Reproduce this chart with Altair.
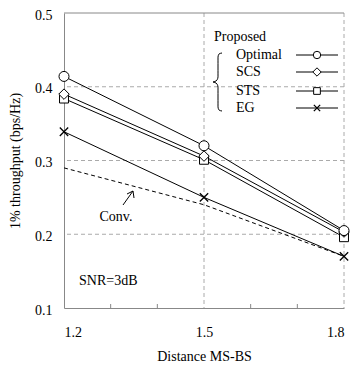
import altair as alt
import pandas as pd

distance = [1.2, 1.5, 1.8]
optimal = [0.414, 0.320, 0.205]
scs = [0.390, 0.306, 0.203]
sts = [0.384, 0.301, 0.196]
eg = [0.339, 0.250, 0.170]
conv = [0.290, 0.240, 0.170]

series_names = ["Optimal", "SCS", "STS", "EG"]
series_vals = [optimal, scs, sts, eg]

x_ticks = [1.2, 1.5, 1.8]
x_minor = [1.3, 1.4, 1.6, 1.7]
y_ticks = [0.1, 0.2, 0.3, 0.4, 0.5]
grid_y = [0.2, 0.3, 0.4]
grid_x = [1.5, 1.8]

FONT = "'Liberation Serif', 'Times New Roman', serif"
W, H = 280, 295

rows = []
for name, vals in zip(series_names, series_vals):
    for d, v in zip(distance, vals):
        rows.append({"series": name, "d": d, "v": v})
df = pd.DataFrame(rows)
conv_df = pd.DataFrame({"d": distance, "v": conv})

xs = alt.Scale(domain=[1.2, 1.8], nice=False, zero=False)
ys = alt.Scale(domain=[0.1, 0.5], nice=False, zero=False)

X_SHAPE = "M-1,-1L1,1M-1,1L1,-1"
shape_map = {"Optimal": "circle", "SCS": "diamond", "STS": "square", "EG": X_SHAPE}

base_x = alt.X("d:Q", scale=xs, axis=alt.Axis(
    values=x_ticks, format=".1f", labelPadding=17, ticks=False, grid=False,
    domainColor="#888", title="Distance MS-BS", titlePadding=10,
    labelFont=FONT, labelFontSize=14, titleFont=FONT, titleFontSize=14,
    titleFontWeight="normal", labelColor="black", titleColor="black"))
base_y = alt.Y("v:Q", scale=ys, axis=alt.Axis(
    values=y_ticks, format=".1f", labelPadding=12, labelOffset=2, ticks=False, grid=False,
    domainColor="#888", title="1% throughput (bps/Hz)", titlePadding=12,
    labelFont=FONT, labelFontSize=14, titleFont=FONT, titleFontSize=14,
    titleFontWeight="normal", labelColor="black", titleColor="black"))

# grid
gy = alt.Chart(pd.DataFrame({"v": grid_y})).mark_rule(
    color="#aaa", strokeDash=[4, 3], strokeWidth=1).encode(y=alt.Y("v:Q", scale=ys))
gx = alt.Chart(pd.DataFrame({"d": grid_x})).mark_rule(
    color="#aaa", strokeDash=[4, 3], strokeWidth=1).encode(x=alt.X("d:Q", scale=xs))
top = alt.Chart(pd.DataFrame({"v": [0.5]})).mark_rule(
    color="#888", strokeWidth=1).encode(y=alt.Y("v:Q", scale=ys))
minor = alt.Chart(pd.DataFrame({"d": x_minor})).mark_rule(
    color="#888", strokeWidth=1).encode(
    x=alt.X("d:Q", scale=xs), y=alt.value(H), y2=alt.value(H - 4))

lines = alt.Chart(df).mark_line(color="black", strokeWidth=1).encode(
    x=base_x, y=base_y, detail="series:N")
conv_line = alt.Chart(conv_df).mark_line(
    color="black", strokeWidth=1, strokeDash=[4, 3]).encode(
    x=alt.X("d:Q", scale=xs), y=alt.Y("v:Q", scale=ys))

marker_sizes = {"Optimal": 100, "SCS": 110, "STS": 80, "EG": 70}
legend_sizes = {"Optimal": 55, "SCS": 70, "STS": 45, "EG": 40}

def make_mark(name, data, size):
    if name == "EG":
        return alt.Chart(data).mark_point(
            shape=X_SHAPE, size=size, filled=False, stroke="black",
            strokeWidth=1.3, opacity=1)
    return alt.Chart(data).mark_point(
        shape=shape_map[name], size=size, filled=True, fill="white",
        stroke="black", strokeWidth=1, opacity=1)

points = [make_mark(n, df[df.series == n], marker_sizes[n]).encode(
    x=alt.X("d:Q", scale=xs), y=alt.Y("v:Q", scale=ys))
    for n in ["STS", "SCS", "Optimal", "EG"]]

# legend (pixel positions inside plot area)
leg_rows_y = [42, 59, 78, 95]
leg_df = pd.DataFrame({"name": series_names, "py": leg_rows_y})
leg_text = alt.Chart(leg_df).mark_text(
    align="left", baseline="middle", font=FONT, fontSize=14, color="black").encode(
    x=alt.value(172), y=alt.Y("py:Q", scale=None), text="name:N")
leg_line = alt.Chart(leg_df).mark_rule(color="black", strokeWidth=1).encode(
    x=alt.value(232), x2=alt.value(274), y=alt.Y("py:Q", scale=None))
leg_marks = [make_mark(n, pd.DataFrame({"py": [py]}), legend_sizes[n]).encode(
    x=alt.value(253), y=alt.Y("py:Q", scale=None))
    for n, py in zip(series_names, leg_rows_y)]

proposed = alt.Chart(pd.DataFrame({"t": ["Proposed"]})).mark_text(
    align="left", baseline="middle", font=FONT, fontSize=14, color="black").encode(
    x=alt.value(150), y=alt.value(24), text="t:N")

brace_px = [158, 155, 154, 154, 153, 149, 153, 154, 154, 155, 158]
brace_py = [40, 41, 44, 64, 67, 69, 71, 74, 94, 97, 98]
brace = alt.Chart(pd.DataFrame({"px": brace_px, "py": brace_py, "o": range(len(brace_px))})).mark_line(
    color="black", strokeWidth=1, interpolate="monotone").encode(
    x=alt.X("px:Q", scale=None), y=alt.Y("py:Q", scale=None), order="o:Q")

# annotations
conv_txt = alt.Chart(pd.DataFrame({"t": ["Conv."]})).mark_text(
    align="center", baseline="middle", font=FONT, fontSize=14, color="black").encode(
    x=alt.value(52), y=alt.value(204), text="t:N")
arrow_df = pd.DataFrame({"x1": [59, 69, 69], "y1": [192, 178, 178],
                         "x2": [69, 63, 70], "y2": [178, 181, 185]})
arrow = alt.Chart(arrow_df).mark_rule(color="black", strokeWidth=1).encode(
    x=alt.X("x1:Q", scale=None), y=alt.Y("y1:Q", scale=None),
    x2="x2:Q", y2="y2:Q")
snr = alt.Chart(pd.DataFrame({"t": ["SNR=3dB"]})).mark_text(
    align="left", baseline="middle", font=FONT, fontSize=14, color="black").encode(
    x=alt.value(15), y=alt.value(268), text="t:N")

chart = alt.layer(
    gy, gx, top, minor, lines, conv_line, *points,
    leg_line, *leg_marks, leg_text, proposed, brace, conv_txt, arrow, snr
).properties(
    width=W, height=H,
    autosize=alt.AutoSizeParams(type="none"),
    padding={"left": 56, "top": 5, "right": 6, "bottom": 60},
).configure_view(stroke=None)

chart.save("out.html", embed_options={"renderer": "svg", "actions": False})
